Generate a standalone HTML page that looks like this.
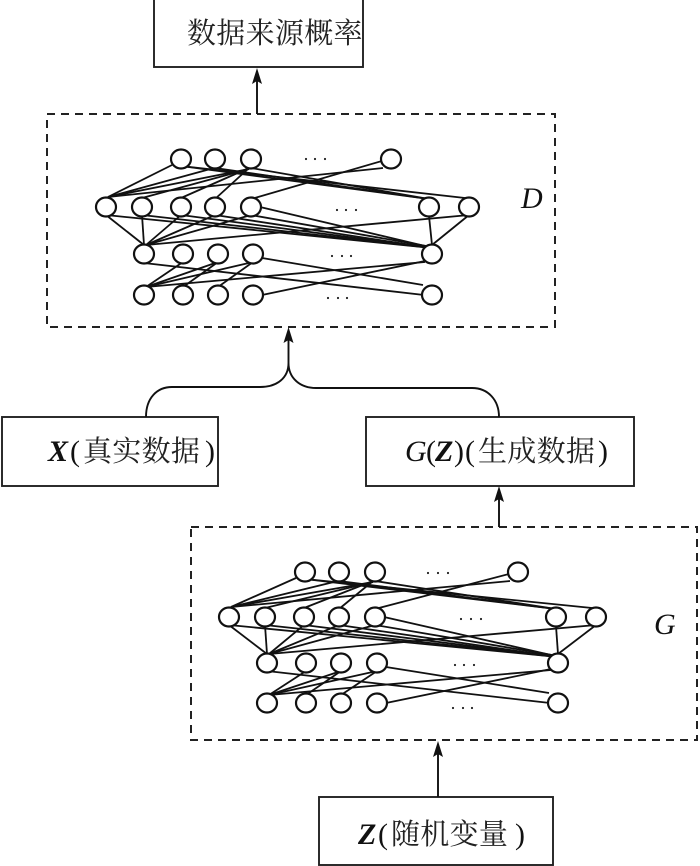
<!DOCTYPE html>
<html>
<head>
<meta charset="utf-8">
<style>
html,body{margin:0;padding:0;background:#fff;width:700px;height:866px;overflow:hidden}
svg{display:block}
.e line{stroke:#111;stroke-width:1.8}
.n ellipse{fill:#fff;stroke:#111;stroke-width:2.2}
.b{fill:#fff;stroke:#222;stroke-width:1.9}
.d{fill:none;stroke:#222;stroke-width:2;stroke-dasharray:8 6}
.c{fill:none;stroke:#111;stroke-width:1.9}
.cjk{font-family:"Liberation Serif","Noto Serif CJK SC",serif;font-size:29px;letter-spacing:0.3px;fill:#222}
.l{font-family:"Liberation Serif",serif;font-size:30px;fill:#111}
.bi{font-weight:bold;font-style:italic}
.i{font-style:italic}
</style>
</head>
<body>
<svg width="700" height="866" viewBox="0 0 700 866" xmlns="http://www.w3.org/2000/svg">
<!-- boxes -->
<rect class="b" x="154" y="-1" width="209" height="68"/>
<rect class="b" x="2" y="417" width="216" height="69"/>
<rect class="b" x="366" y="417" width="268" height="69"/>
<rect class="b" x="319" y="797" width="234" height="68"/>
<rect class="d" x="47" y="114" width="508" height="213"/>
<rect class="d" x="191" y="527" width="506" height="213"/>
<!-- arrows -->
<path class="c" d="M257 114V76M288.500 363V340M146 417C146 398 157 387 172 387H260C277 387 288.500 378 288.500 363C288.500 378 300 388 316 388H472C488 388 499 400 499 417M499 527V494M438 797V750"/>
<path fill="#111" d="M257 68l-5 16 5-3 5 3zM288.500 327l-5 16 5-3 5 3zM499 486l-5 16 5-3 5 3zM438 741l-5 16 5-3 5 3z"/>
<!-- D edges -->
<g class="e">
<line x1="108" y1="197" x2="172" y2="165"/><line x1="108" y1="197" x2="214" y2="168"/><line x1="108" y1="197" x2="249" y2="169"/><line x1="108" y1="197" x2="383" y2="168"/>
<line x1="142" y1="198" x2="249" y2="169"/><line x1="181" y1="198" x2="249" y2="168"/><line x1="215" y1="199" x2="249" y2="168"/><line x1="251" y1="199" x2="382" y2="161"/>
<line x1="181" y1="166" x2="429" y2="199"/><line x1="215" y1="168" x2="429" y2="199"/><line x1="251" y1="168" x2="429" y2="199"/><line x1="181" y1="166" x2="465" y2="198"/>
<line x1="106" y1="215" x2="144" y2="245"/><line x1="142" y1="215" x2="144" y2="245"/><line x1="181" y1="215" x2="146" y2="245"/><line x1="215" y1="215" x2="146" y2="245"/><line x1="251" y1="215" x2="146" y2="245"/><line x1="469" y1="215" x2="146" y2="245"/>
<line x1="429" y1="216" x2="432" y2="245"/><line x1="469" y1="215" x2="432" y2="245"/>
<line x1="106" y1="215" x2="432" y2="248"/><line x1="142" y1="215" x2="432" y2="248"/><line x1="181" y1="215" x2="432" y2="248"/><line x1="215" y1="215" x2="432" y2="248"/><line x1="251" y1="215" x2="432" y2="247"/><line x1="260" y1="207" x2="425" y2="246"/>
<line x1="183" y1="262" x2="146" y2="287"/><line x1="218" y1="262" x2="146" y2="287"/><line x1="253" y1="262" x2="146" y2="287"/><line x1="218" y1="262" x2="183" y2="287"/><line x1="253" y1="262" x2="218" y2="287"/>
<line x1="146" y1="287" x2="425" y2="262"/><line x1="262" y1="295" x2="425" y2="261"/><line x1="144" y1="263" x2="424" y2="295"/><line x1="262" y1="258" x2="423" y2="285"/>
</g>
<!-- D nodes -->
<g class="n">
<ellipse cx="181" cy="159" rx="10" ry="9.500"/><ellipse cx="215" cy="159" rx="10" ry="9.500"/><ellipse cx="251" cy="159" rx="10" ry="9.500"/><ellipse cx="391" cy="159" rx="10" ry="9.500"/>
<ellipse cx="106" cy="207" rx="10" ry="9.500"/><ellipse cx="142" cy="207" rx="10" ry="9.500"/><ellipse cx="181" cy="207" rx="10" ry="9.500"/><ellipse cx="215" cy="207" rx="10" ry="9.500"/><ellipse cx="251" cy="207" rx="10" ry="9.500"/><ellipse cx="429" cy="207" rx="10" ry="9.500"/><ellipse cx="469" cy="207" rx="10" ry="9.500"/>
<ellipse cx="144" cy="254" rx="10" ry="9.500"/><ellipse cx="183" cy="254" rx="10" ry="9.500"/><ellipse cx="218" cy="254" rx="10" ry="9.500"/><ellipse cx="253" cy="254" rx="10" ry="9.500"/><ellipse cx="432" cy="254" rx="10" ry="9.500"/>
<ellipse cx="144" cy="295" rx="10" ry="9.500"/><ellipse cx="183" cy="295" rx="10" ry="9.500"/><ellipse cx="218" cy="295" rx="10" ry="9.500"/><ellipse cx="253" cy="295" rx="10" ry="9.500"/><ellipse cx="432" cy="295" rx="10" ry="9.500"/>
</g>
<!-- G edges -->
<g class="e">
<line x1="231" y1="607" x2="296" y2="578"/><line x1="231" y1="607" x2="338" y2="581"/><line x1="231" y1="607" x2="373" y2="582"/><line x1="231" y1="607" x2="510" y2="581"/>
<line x1="265" y1="608" x2="373" y2="582"/><line x1="304" y1="608" x2="373" y2="581"/><line x1="339" y1="609" x2="373" y2="581"/><line x1="375" y1="609" x2="509" y2="574"/>
<line x1="305" y1="579" x2="556" y2="609"/><line x1="339" y1="581" x2="556" y2="609"/><line x1="375" y1="581" x2="556" y2="609"/><line x1="305" y1="579" x2="592" y2="608"/>
<line x1="229" y1="625" x2="267" y2="654"/><line x1="265" y1="625" x2="267" y2="654"/><line x1="304" y1="625" x2="269" y2="654"/><line x1="339" y1="625" x2="269" y2="654"/><line x1="375" y1="625" x2="269" y2="654"/><line x1="596" y1="625" x2="269" y2="654"/>
<line x1="556" y1="626" x2="558" y2="654"/><line x1="596" y1="625" x2="558" y2="654"/>
<line x1="229" y1="625" x2="558" y2="657"/><line x1="265" y1="625" x2="558" y2="657"/><line x1="304" y1="625" x2="558" y2="657"/><line x1="339" y1="625" x2="558" y2="657"/><line x1="375" y1="625" x2="558" y2="656"/><line x1="384" y1="617" x2="551" y2="655"/>
<line x1="306" y1="671" x2="269" y2="695"/><line x1="341" y1="671" x2="269" y2="695"/><line x1="377" y1="671" x2="269" y2="695"/><line x1="341" y1="671" x2="306" y2="695"/><line x1="377" y1="671" x2="341" y2="695"/>
<line x1="269" y1="695" x2="551" y2="670"/><line x1="386" y1="703" x2="551" y2="669"/><line x1="267" y1="671" x2="550" y2="703"/><line x1="386" y1="667" x2="549" y2="693"/>
</g>
<!-- G nodes -->
<g class="n">
<ellipse cx="305" cy="572" rx="10" ry="9.500"/><ellipse cx="339" cy="572" rx="10" ry="9.500"/><ellipse cx="375" cy="572" rx="10" ry="9.500"/><ellipse cx="518" cy="572" rx="10" ry="9.500"/>
<ellipse cx="229" cy="617" rx="10" ry="9.500"/><ellipse cx="265" cy="617" rx="10" ry="9.500"/><ellipse cx="304" cy="617" rx="10" ry="9.500"/><ellipse cx="339" cy="617" rx="10" ry="9.500"/><ellipse cx="375" cy="617" rx="10" ry="9.500"/><ellipse cx="556" cy="617" rx="10" ry="9.500"/><ellipse cx="596" cy="617" rx="10" ry="9.500"/>
<ellipse cx="267" cy="663" rx="10" ry="9.500"/><ellipse cx="306" cy="663" rx="10" ry="9.500"/><ellipse cx="341" cy="663" rx="10" ry="9.500"/><ellipse cx="377" cy="663" rx="10" ry="9.500"/><ellipse cx="558" cy="663" rx="10" ry="9.500"/>
<ellipse cx="267" cy="703" rx="10" ry="9.500"/><ellipse cx="306" cy="703" rx="10" ry="9.500"/><ellipse cx="341" cy="703" rx="10" ry="9.500"/><ellipse cx="377" cy="703" rx="10" ry="9.500"/><ellipse cx="558" cy="703" rx="10" ry="9.500"/>
</g>
<!-- ellipsis dots -->
<g fill="#222">
<circle cx="306" cy="159" r="1.1"/><circle cx="315" cy="159" r="1.1"/><circle cx="325" cy="159" r="1.1"/>
<circle cx="337" cy="210" r="1.1"/><circle cx="346" cy="210" r="1.1"/><circle cx="356" cy="210" r="1.1"/>
<circle cx="332" cy="256" r="1.1"/><circle cx="342" cy="256" r="1.1"/><circle cx="351" cy="256" r="1.1"/>
<circle cx="328" cy="298" r="1.1"/><circle cx="338" cy="298" r="1.1"/><circle cx="347" cy="298" r="1.1"/>
<circle cx="428" cy="573" r="1.1"/><circle cx="438" cy="573" r="1.1"/><circle cx="448" cy="573" r="1.1"/>
<circle cx="461" cy="619" r="1.1"/><circle cx="471" cy="619" r="1.1"/><circle cx="481" cy="619" r="1.1"/>
<circle cx="455" cy="665" r="1.1"/><circle cx="464" cy="665" r="1.1"/><circle cx="474" cy="665" r="1.1"/>
<circle cx="453" cy="708" r="1.1"/><circle cx="463" cy="708" r="1.1"/><circle cx="472" cy="708" r="1.1"/>
</g>
<!-- labels -->
<text class="cjk" x="187" y="43">数据来源概率</text>
<text class="l i" x="521" y="208">D</text>
<text class="l i" x="654" y="634">G</text>
<text class="l bi" x="48" y="461">X</text>
<text class="l" x="70" y="461">(</text>
<text class="cjk" x="83" y="461">真实数据</text>
<text class="l" x="205" y="461">)</text>
<text class="l i" x="405" y="461">G</text>
<text class="l" x="426" y="461">(</text>
<text class="l bi" x="435" y="461">Z</text>
<text class="l" x="454" y="461">)</text>
<text class="l" x="465" y="461">(</text>
<text class="cjk" x="478" y="461">生成数据</text>
<text class="l" x="598" y="461">)</text>
<text class="l bi" x="358" y="844">Z</text>
<text class="l" x="378" y="844">(</text>
<text class="cjk" x="391" y="844">随机变量</text>
<text class="l" x="515" y="844">)</text>
</svg>
</body>
</html>
